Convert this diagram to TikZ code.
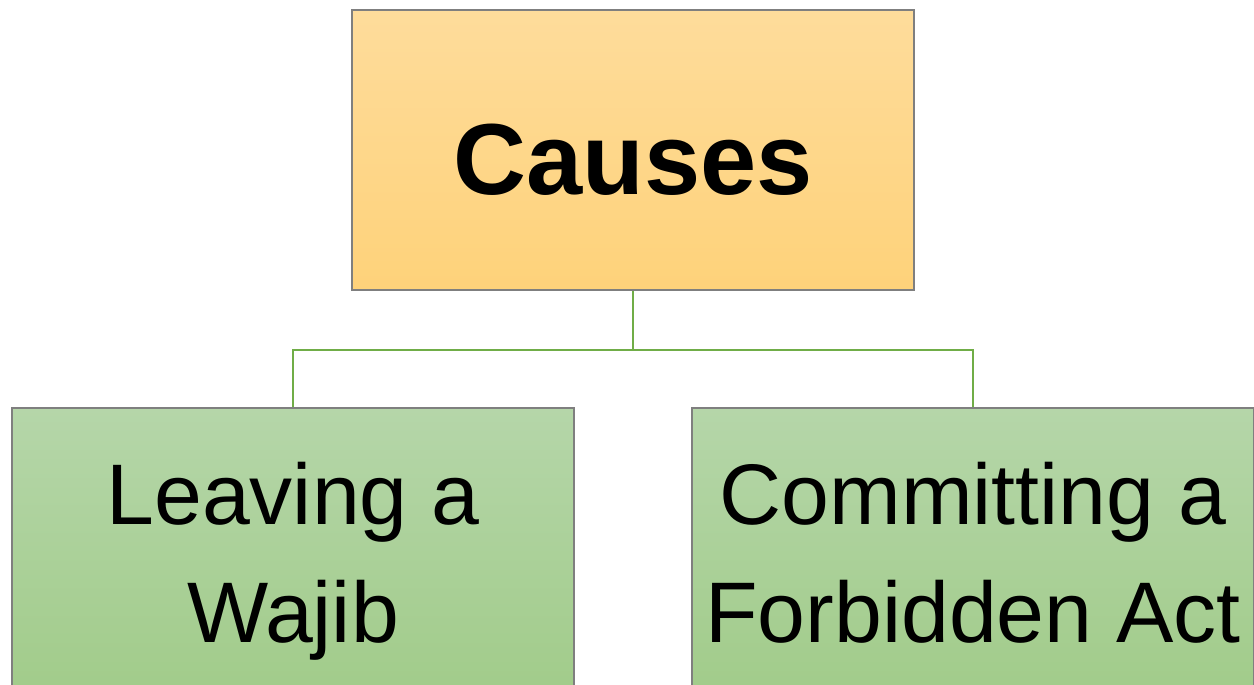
\documentclass[tikz,border=0pt]{standalone}
\usepackage{fontspec}
\setmainfont{Liberation Sans}
\usetikzlibrary{positioning}
\definecolor{causetop}{HTML}{FEDC9B}
\definecolor{causebot}{HTML}{FED27A}
\definecolor{acttop}{HTML}{B5D6A9}
\definecolor{actbot}{HTML}{A0CB88}
\definecolor{framegray}{HTML}{7F7F7F}
\definecolor{linkgreen}{HTML}{70AD47}
\tikzset{
    cause/.style={draw=framegray, line width=0.7pt, top color=causetop, bottom color=causebot,
        minimum width=281pt, minimum height=140pt, inner sep=0pt,
        text height=44pt, text depth=0pt, font=\fontsize{50.5}{56}\selectfont\bfseries},
    act/.style={draw=framegray, line width=0.7pt, top color=acttop, bottom color=actbot,
        minimum width=281pt, minimum height=152pt, inner sep=0pt, align=center,
        font=\fontsize{43}{59}\selectfont},
    link/.style={draw=linkgreen, line width=1.2pt}
}
\begin{document}
\begin{tikzpicture}[x=0.5pt, y=-0.5pt]
\useasboundingbox (0,0) rectangle (1254,685);
\node[cause] (C) at (633,150) {Causes};
\node[act] (W) at (293,560) {\strut Leaving a\\Wajib\strut};
\node[act] (F) at (973,560) {\strut Committing a\\Forbidden Act\strut};

\draw[link] (C.south) -- ++(0,59) coordinate (fork) -| (W.north);
\draw[link] (fork) -| (F.north);
\end{tikzpicture}
\end{document}
